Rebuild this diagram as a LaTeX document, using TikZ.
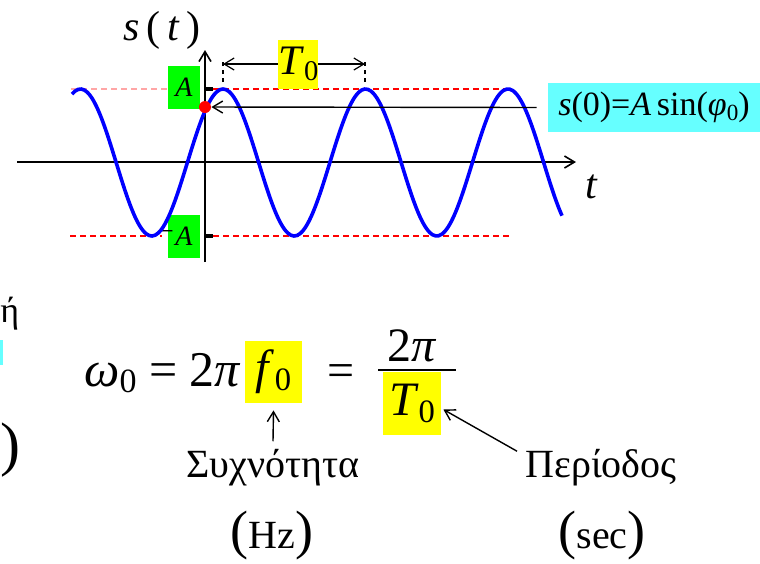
\documentclass[tikz,border=0pt]{standalone}
\usepackage{fontspec}
\setmainfont{Liberation Serif}
\usepackage{graphicx}
\usetikzlibrary{arrows.meta, positioning, calc}

\definecolor{aqua}{RGB}{102,255,255}
\definecolor{lime}{RGB}{0,255,0}
\definecolor{hilite}{RGB}{255,255,0}
\newcommand{\fsz}[1]{\fontsize{#1}{#1}\selectfont}
\newcommand{\idx}[1]{\raisebox{-0.3ex}{\scalebox{0.68}{#1}}}
\newcommand{\unitpar}[1]{{\fsz{27}(}#1{\fsz{27})}}

\begin{document}
\begin{tikzpicture}[x=0.5pt, y=-0.5pt,
    axis/.style={-{Straight Barb[length=5pt,width=6pt]}, line width=0.8pt},
    arr/.style={-{Straight Barb[length=5pt,width=6pt]}, line width=0.7pt},
    dimarr/.style={{Straight Barb[length=5pt,width=6pt]}-{Straight Barb[length=5pt,width=6pt]}, line width=0.6pt},
    dimline/.style={dash pattern=on 2pt off 2pt, line width=0.6pt},
    level/.style={red, dash pattern=on 3pt off 2pt, line width=0.7pt},
    wave/.style={blue, line width=1.8pt},
    greenbox/.style={fill=lime, inner sep=0pt, minimum width=16pt, minimum height=21.5pt, font=\fsz{14}\itshape},
    hlbox/.style={fill=hilite, inner sep=0pt, align=center},
    eqtext/.style={font=\fsz{24}, inner sep=0pt},
    word/.style={font=\fsz{20}, inner sep=0pt}
]
\useasboundingbox (0,0) rectangle (760,563);

% Axes
\coordinate (xl) at (17,162);
\coordinate (xr) at (576,162);
\coordinate (yb) at (205,262);
\coordinate (yt) at (205,50);
\draw[axis] (xl) -- (xr);
\draw[axis] (yb) -- (yt);
\node[font=\fsz{21}] (slabel) at (162,30) {\textit{s}\,(\,\textit{t}\,)};
\node[font=\fsz{21}\itshape] (tlabel) at (591,187) {t};

% Amplitude levels
\draw[level, red!35] (71,89) -- (168,89);
\draw[level] (213,89) -- (508,89);
\draw[level] (70,236) -- (162,236);
\draw[level] (213,236) -- (510,236);
\draw[line width=2pt] (205,89) -- (213,89);
\draw[line width=2pt] (205,236) -- (213,236);
\node[greenbox] (topA) at (184,87.5) {A};
\node[greenbox] (lowA) at (184,236.5) {A};
\node[font=\fsz{14}, inner sep=0pt] (minus) at (166,235) {−};

% Signal
\draw[wave] plot[domain=72:562, samples=160, smooth] (\x, {162.5-73.5*sin((\x-187.4)/142.5*360)});
\node[circle, fill=red, inner sep=0pt, minimum size=6pt] (dot) at (205,107) {};

% Period
\draw[dimline] (223,82) -- (223,60);
\draw[dimline] (365,82) -- (365,60);
\coordinate (pa) at (223,64);
\coordinate (pb) at (365,64);
\draw[dimarr] (pa) -- node[hlbox, pos=0.53, minimum width=19pt, minimum height=24.5pt, font=\fsz{21}] (tzero) {\textit{T}\idx{0}} (pb);

% Initial value
\node[fill=aqua, inner sep=0pt, minimum width=106pt, minimum height=24.5pt, font=\fsz{17}] (szero) at (654,107.5) {\textit{s}(0)=\textit{A}\,sin(\textit{φ}\idx{0})};
\draw[arr] ([xshift=-5.5pt]szero.west) -- (dot);

% Cut-off text at the left edge
\node[font=\fsz{18}, inner sep=0pt, anchor=west] (frag1) at (0,314) {ή};
\fill[aqua] (0,340) rectangle (2.5,365);
\node[font=\fsz{30}, inner sep=0pt, anchor=west] (frag2) at (0,450) {)};

% Equation
\node[eqtext, font=\fsz{25}, anchor=base west] (omega) at (84,386) {\textit{ω}\idx{0} = 2\textit{π}};
\node[hlbox, eqtext, minimum width=28.5pt, minimum height=31pt] (fzero) at (273.5,372) {\textit{f}\idx{0}};
\node[eqtext, anchor=base] (eqsign) at (341,386) {=};
\node[eqtext, anchor=base] (num) at (412,361) {2\textit{π}};
\draw[line width=0.8pt] (378,370) -- (456,370);
\node[hlbox, eqtext, minimum width=29pt, minimum height=31.5pt] (den) at (412,403.5) {\textit{T}\idx{0}};

% Names and units
\node[word] (freq) at (273,468) {Συχνότητα};
\node[word] (period) at (601,468) {Περίοδος};
\node[word] (hz) at (272,536) {\unitpar{Hz}};
\node[word] (sec) at (602,536) {\unitpar{sec}};
\draw[arr] ([yshift=4pt]freq.north) -- ([yshift=-3.5pt]fzero.south);
\draw[arr] ([shift={(-8,2)}]period.north west) -- ([shift={(2,6)}]den.east);
\end{tikzpicture}
\end{document}
